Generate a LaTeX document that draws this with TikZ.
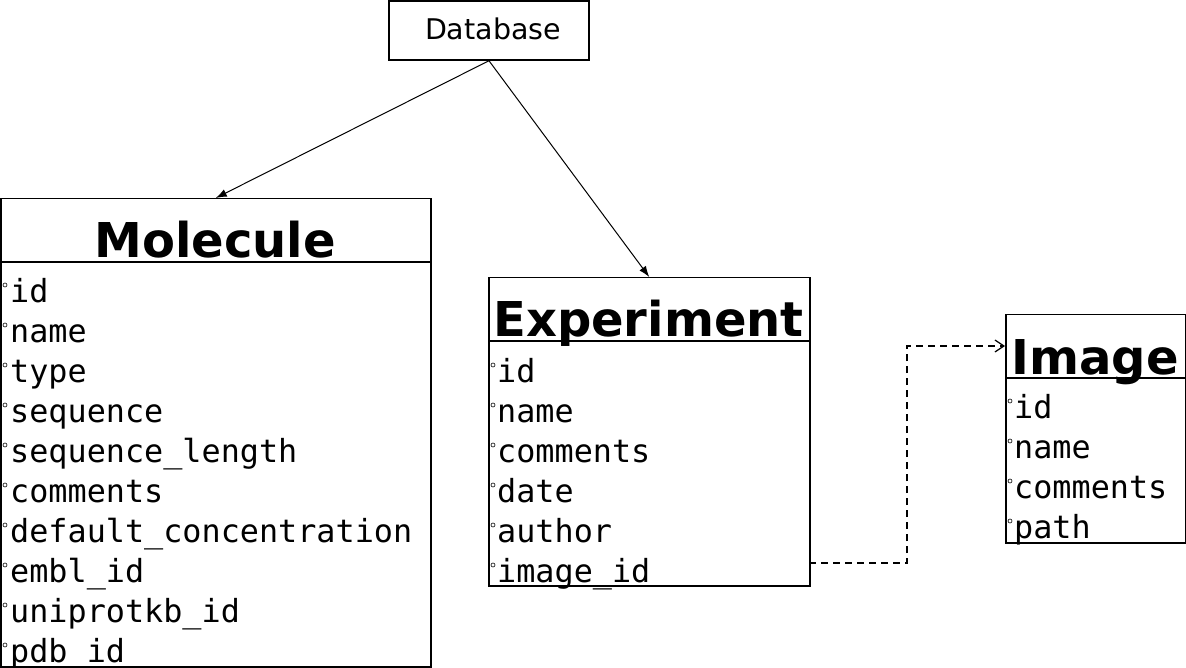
\documentclass[tikz,border=0pt]{standalone}
\usepackage{fontspec}
\setmainfont{DejaVu Sans}
\setmonofont{DejaVu Sans Mono}
\usetikzlibrary{arrows.meta,positioning}
\tikzstyle{entitybox} = [rectangle, draw=black, line width=1.5pt, inner sep=0pt, anchor=north west]
\tikzstyle{entitytitle} = [inner sep=0pt, anchor=base, font=\fontsize{48}{48}\selectfont\bfseries]
\tikzstyle{fieldtext} = [inner sep=0pt, anchor=base west, font=\fontsize{31.8}{40}\selectfont\ttfamily]
\tikzstyle{fieldmark} = [circle, draw=black, line width=0.6pt, minimum size=4pt, inner sep=0pt]
\tikzstyle{arrow} = [line width=1pt, -{Latex[length=11pt,width=8pt]}]
\tikzstyle{link} = [line width=1.2pt, dash pattern=on 7pt off 5pt, -{Straight Barb[length=9pt,width=12pt]}]

\begin{document}
\begin{tikzpicture}[x=1pt,y=-1pt]
\useasboundingbox (0,0) rectangle (1186,668);
\node (db) [rectangle, draw=black, line width=1.5pt, minimum width=200pt, minimum height=59pt, font=\fontsize{28.5}{30}\selectfont] at (489,30.5) {\hspace*{8pt}\raisebox{3pt}{Database}};
% Molecule
\node (mol) [entitybox, minimum width=430pt, minimum height=468pt] at (0,198) {};
\draw [line width=1.5pt] (0,262) -- (430,262);
\node (moltitle) [entitytitle] at (215,258) {Molecule};
\node (m1) [fieldtext] at (10,302) {id};
\node (m2) [fieldtext] at (10,342) {name};
\node (m3) [fieldtext] at (10,382) {type};
\node (m4) [fieldtext] at (10,422) {sequence};
\node (m5) [fieldtext] at (10,462) {sequence\_length};
\node (m6) [fieldtext] at (10,502) {comments};
\node (m7) [fieldtext] at (10,542) {default\_concentration};
\node (m8) [fieldtext] at (10,582) {embl\_id};
\node (m9) [fieldtext] at (10,622) {uniprotkb\_id};
\node (m10) [fieldtext] at (10,662) {pdb\_id};
\node [fieldmark] at (5,285) {};
\node [fieldmark] at (5,325) {};
\node [fieldmark] at (5,365) {};
\node [fieldmark] at (5,405) {};
\node [fieldmark] at (5,445) {};
\node [fieldmark] at (5,485) {};
\node [fieldmark] at (5,525) {};
\node [fieldmark] at (5,565) {};
\node [fieldmark] at (5,605) {};
\node [fieldmark] at (5,645) {};
% Experiment
\node (exp) [entitybox, minimum width=321pt, minimum height=308pt] at (488,277) {};
\draw [line width=1.5pt] (488,341) -- (809,341);
\node (exptitle) [entitytitle] at (648.5,337) {Experiment};
\node (e1) [fieldtext] at (497,382) {id};
\node (e2) [fieldtext] at (497,422) {name};
\node (e3) [fieldtext] at (497,462) {comments};
\node (e4) [fieldtext] at (497,502) {date};
\node (e5) [fieldtext] at (497,542) {author};
\node (e6) [fieldtext] at (497,582) {image\_id};
\node [fieldmark] at (493,365) {};
\node [fieldmark] at (493,405) {};
\node [fieldmark] at (493,445) {};
\node [fieldmark] at (493,485) {};
\node [fieldmark] at (493,525) {};
\node [fieldmark] at (493,565) {};
% Image
\node (img) [entitybox, minimum width=180pt, minimum height=228pt] at (1005,314) {};
\draw [line width=1.5pt] (1005,378) -- (1185,378);
\node (imgtitle) [entitytitle] at (1095,374) {Image};
\node (i1) [fieldtext] at (1014,418) {id};
\node (i2) [fieldtext] at (1014,458) {name};
\node (i3) [fieldtext] at (1014,498) {comments};
\node (i4) [fieldtext] at (1014,538) {path};
\node [fieldmark] at (1010,401) {};
\node [fieldmark] at (1010,441) {};
\node [fieldmark] at (1010,481) {};
\node [fieldmark] at (1010,521) {};
% connectors
\coordinate (ref) at (809,563);
\coordinate (imgin) at (1005,346);
\draw [arrow] (db.south) -- (mol.north);
\draw [arrow] (db.south) -- (exp.north);
\draw [link] (ref) -- (907,563) -- (907,346) -- (imgin);
\end{tikzpicture}
\end{document}
